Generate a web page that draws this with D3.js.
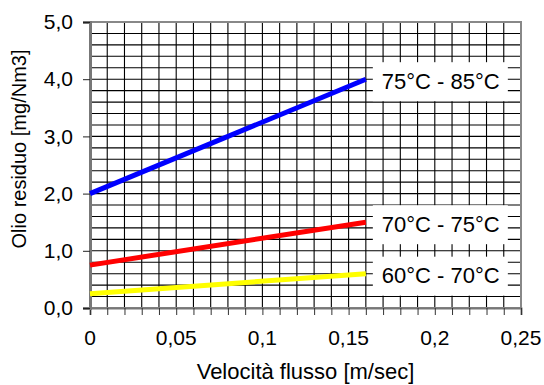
<!DOCTYPE html>
<html>
<head>
<meta charset="utf-8">
<script src="https://cdn.jsdelivr.net/npm/d3@7"></script>
<style>
    body { margin: 0; background: #fff; }
    text { font-family: "Liberation Sans", Arial, sans-serif; fill: #000; }
</style>
</head>
<body>
<div id="chart"></div>
<script>
// data
const seriesNames = ['75°C - 85°C', '70°C - 75°C', '60°C - 70°C'];
const seriesColors = ['#0000ff', '#ff0000', '#ffff00'];
const velocity = [0, 0.16];
const blueValues = [2.0, 4.0];
const redValues = [0.75, 1.5];
const yellowValues = [0.25, 0.6];
const xTicks = [0, 0.05, 0.1, 0.15, 0.2, 0.25];
const yTicks = [0, 1, 2, 3, 4, 5];

const W = 544, H = 385;
const margin = {top: 22, right: 23, bottom: 77, left: 90};
const width = W - margin.left - margin.right;
const height = H - margin.top - margin.bottom;

const svg = d3.select('#chart')
    .append('svg')
    .attr('width', W)
    .attr('height', H)
    .append('g')
    .attr('transform', `translate(${margin.left}, ${margin.top})`);

const x = d3.scaleLinear().domain([0, 0.25]).range([0, width]);
const y = d3.scaleLinear().domain([0, 5]).range([height, 0]);
const fmt = v => String(v).replace('.', ',');

// grid: vertical every 0.01, horizontal every 0.2
svg.append('g')
    .selectAll('line')
    .data(d3.range(1, 25).map(i => i / 100))
    .enter()
    .append('line')
    .attr('x1', d => x(d)).attr('x2', d => x(d))
    .attr('y1', 0).attr('y2', height)
    .attr('stroke', '#000')
    .attr('stroke-width', 1.1);
svg.append('g')
    .selectAll('line')
    .data(d3.range(1, 25).map(i => i / 5))
    .enter()
    .append('line')
    .attr('x1', 0).attr('x2', width)
    .attr('y1', d => y(d)).attr('y2', d => y(d))
    .attr('stroke', '#000')
    .attr('stroke-width', 1.1);

// frame
svg.append('rect')
    .attr('width', width)
    .attr('height', height)
    .attr('fill', 'none')
    .attr('stroke', '#888')
    .attr('stroke-width', 2);

// axes
const xAxis = svg.append('g')
    .attr('transform', `translate(0, ${height})`)
    .call(d3.axisBottom(x).tickValues(d3.range(0, 26).map(i => i / 100)).tickSize(7).tickFormat(''));
xAxis.select('.domain').attr('stroke', '#777').attr('stroke-width', 2);
xAxis.selectAll('.tick line').attr('stroke', '#333');

svg.append('g')
    .attr('transform', `translate(0, ${height})`)
    .selectAll('text')
    .data(xTicks)
    .enter()
    .append('text')
    .attr('x', d => x(d))
    .attr('y', 37)
    .attr('text-anchor', 'middle')
    .style('font-size', '21px')
    .text(d => fmt(d));

const yAxis = svg.append('g')
    .call(d3.axisLeft(y).tickValues(yTicks).tickSize(7).tickFormat(d => d3.format('.1f')(d).replace('.', ',')));
yAxis.select('.domain').attr('stroke', '#777').attr('stroke-width', 3);
yAxis.selectAll('.tick line').attr('stroke', '#222');
yAxis.selectAll('.tick text')
    .attr('x', -17)
    .style('font-size', '21px')
    .style('font-family', '"Liberation Sans", Arial, sans-serif');

// axis titles
svg.append('text')
    .attr('text-anchor', 'middle')
    .attr('x', width / 2)
    .attr('y', height + 71)
    .style('font-size', '22px')
    .text('Velocità flusso [m/sec]');
svg.append('text')
    .attr('text-anchor', 'middle')
    .attr('transform', `translate(${-64}, ${height / 2 - 16}) rotate(-90)`)
    .style('font-size', '20px')
    .text('Olio residuo [mg/Nm3]');

// series lines
const allValues = [blueValues, redValues, yellowValues];
const series = seriesNames.map((name, i) => ({
    name: name,
    color: seriesColors[i],
    points: velocity.map((v, j) => ({v: v, o: allValues[i][j]}))
}));

const line = d3.line().x(d => x(d.v)).y(d => y(d.o));

svg.append('g')
    .selectAll('path')
    .data(series)
    .enter()
    .append('path')
    .attr('d', d => line(d.points))
    .attr('fill', 'none')
    .attr('stroke', d => d.color)
    .attr('stroke-width', 5);

// labels with white boxes
const labels = svg.append('g')
    .selectAll('g')
    .data(series)
    .enter()
    .append('g')
    .attr('transform', d => {
        const last = d.points[d.points.length - 1];
        return `translate(${x(last.v) + 7}, ${y(last.o) + 2})`;
    });
labels.append('rect')
    .attr('x', 0)
    .attr('y', -19)
    .attr('width', 135)
    .attr('height', 39)
    .attr('fill', '#fff');
labels.append('text')
    .attr('x', 9)
    .attr('y', 0)
    .attr('dy', '0.35em')
    .style('font-size', '22px')
    .text(d => d.name);
</script>
</body>
</html>
